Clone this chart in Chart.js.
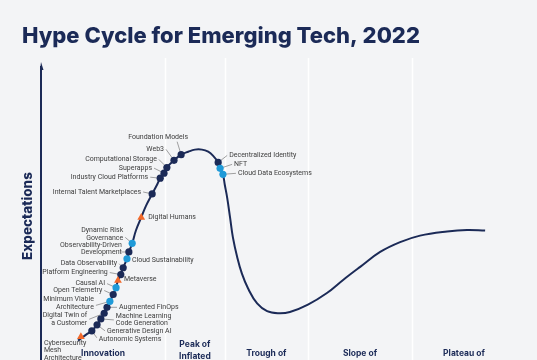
<!DOCTYPE html>
<html>
<head>
<meta charset="utf-8">
<script src="https://cdn.jsdelivr.net/npm/chart.js@4.4.1/dist/chart.umd.min.js"></script>
<style>
  html, body { margin: 0; padding: 0; background: #f3f4f6; }
  #hype { display: block; }
</style>
</head>
<body>
<canvas id="hype" width="537" height="360"></canvas>
<script>
// --- dados (x = tempo 0..100, y = expectativas 0..100) ---
const TITLE = 'Hype Cycle for Emerging Tech, 2022';
const Y_TITLE = 'Expectations';

const CURVE_X = [7.8, 9.5, 10.7, 11.8, 12.6, 13.3, 13.9, 14.5, 15.2, 15.8, 16.2, 16.8, 17.3, 18.1, 18.5, 19.2,
  20.0, 21.1, 22.1, 23.4, 24.4, 25.1, 25.9, 26.5, 28.0, 29.5, 31.0, 32.4, 33.9, 35.2, 36.2, 37.3, 37.7, 38.3,
  38.7, 39.2, 39.8, 40.4, 41.3, 42.3, 43.6, 45.5, 47.6, 49.9, 52.4, 56.2, 60.2, 63.6, 67.2, 71.4, 75.6, 79.8,
  85.5, 89.7, 93.5];
const CURVE_Y = [5.0, 7.0, 8.3, 10.3, 12.3, 14.2, 16.2, 18.2, 20.5, 22.8, 25.2, 27.2, 29.5, 32.5, 34.8, 37.7,
  42.1, 46.4, 50.3, 54.3, 57.3, 59.6, 61.3, 63.2, 65.6, 67.5, 68.5, 69.2, 69.2, 68.5, 67.2, 64.9, 62.9, 60.9,
  57.3, 53.0, 46.4, 39.7, 33.1, 27.5, 22.5, 17.5, 14.9, 14.2, 14.6, 17.1, 21.0, 25.4, 29.8, 34.8, 38.1, 40.3,
  41.7, 42.2, 42.0];

const TECH_NAMES = [
  'Cybersecurity Mesh Architecture', 'Autonomic Systems', 'Generative Design AI',
  'Machine Learning Code Generation', 'Digital Twin of a Customer', 'Augmented FinOps',
  'Minimum Viable Architecture', 'Open Telemetry', 'Causal AI', 'Metaverse', 'Platform Engineering',
  'Data Observability', 'Cloud Sustainability', 'Observability-Driven Development',
  'Dynamic Risk Governance', 'Digital Humans', 'Internal Talent Marketplaces', 'Industry Cloud Platforms',
  'Superapps', 'Computational Storage', 'Web3', 'Foundation Models', 'Decentralized Identity', 'NFT',
  'Cloud Data Ecosystems',
];
const TECH_X = [8.4, 10.7, 11.8, 12.6, 13.3, 13.9, 14.5, 15.2, 15.8, 16.2, 16.8, 17.3, 18.1, 18.5, 19.2,
  21.1, 23.4, 25.1, 25.9, 26.5, 28.0, 29.5, 37.3, 37.7, 38.3];
const TECH_Y = [6.3, 8.3, 10.3, 12.3, 14.2, 16.2, 18.2, 20.5, 22.8, 25.2, 27.2, 29.5, 32.5, 34.8, 37.7,
  46.4, 54.3, 59.6, 61.3, 63.2, 65.6, 67.5, 64.9, 62.9, 60.9];
// anos até o platô: 'a' = 2 a 5, 'b' = 5 a 10, 'c' = mais de 10
const TECH_YEARS = ['c', 'b', 'b', 'b', 'b', 'b', 'a', 'b', 'a', 'c', 'b', 'b', 'a', 'b', 'a',
  'c', 'b', 'b', 'b', 'b', 'b', 'b', 'b', 'a', 'a'];

const PHASES = [
  ['Innovation', 'Trigger'],
  ['Peak of', 'Inflated', 'Expectations'],
  ['Trough of', 'Disillusionment'],
  ['Slope of', 'Enlightenment'],
  ['Plateau of', 'Productivity'],
];
const PHASE_BOUNDS = [0, 26.1, 38.7, 56.2, 78.1, 100];

// --- layout dos rótulos (deslocamentos em px a partir do ponto) ---
const LABEL_LAYOUT = {
  'Cybersecurity Mesh Architecture': { tx: -37, ty: 6, align: 'left', br: ['Cybersecurity', 'Mesh'] },
  'Autonomic Systems': { tx: 7, ty: 8, align: 'left', lead: [5, 7] },
  'Generative Design AI': { tx: 10, ty: 6, align: 'left', lead: [8, 6] },
  'Machine Learning Code Generation': { tx: 15, ty: -3, align: 'left', br: ['Learning'], lead: [13, 1] },
  'Augmented FinOps': { tx: 12, ty: 0, align: 'left', lead: [10, 0] },
  'Digital Twin of a Customer': { tx: -17, ty: 2, align: 'right', br: ['of'], lead: [-15, 6] },
  'Minimum Viable Architecture': { tx: -16, ty: -2, align: 'right', br: ['Viable'], lead: [-14, 4] },
  'Open Telemetry': { tx: -11, ty: -4, align: 'right', lead: [-9, -4] },
  'Causal AI': { tx: -11, ty: -4, align: 'right', lead: [-9, -4] },
  'Metaverse': { tx: 6, ty: -1, align: 'left' },
  'Platform Engineering': { tx: -13, ty: -2, align: 'right', lead: [-11, -2] },
  'Data Observability': { tx: -6, ty: -4, align: 'right', lead: [-4, -4] },
  'Cloud Sustainability': { tx: 5, ty: 1, align: 'left' },
  'Observability-Driven Development': { tx: -7, ty: -7, align: 'right', br: ['Observability-Driven'], lead: [-8, 0] },
  'Dynamic Risk Governance': { tx: -9, ty: -13, align: 'right', br: ['Risk'], lead: [-7, -6] },
  'Digital Humans': { tx: 7, ty: 0, align: 'left' },
  'Internal Talent Marketplaces': { tx: -11, ty: -2, align: 'right', lead: [-9, -2] },
  'Industry Cloud Platforms': { tx: -12, ty: -1, align: 'right', lead: [-10, -1] },
  'Superapps': { tx: -12, ty: -5, align: 'right', lead: [-10, -5] },
  'Computational Storage': { tx: -10, ty: -8, align: 'right', lead: [-8, -8] },
  'Web3': { tx: -10, ty: -11, align: 'right', lead: [-8, -11] },
  'Foundation Models': { tx: -23, ty: -17, align: 'center', lead: [-4, -13] },
  'Decentralized Identity': { tx: 11, ty: -7, align: 'left', lead: [9, -7] },
  'NFT': { tx: 14, ty: -4, align: 'left', lead: [12, -4] },
  'Cloud Data Ecosystems': { tx: 15, ty: -1, align: 'left', lead: [13, -1] },
};

const CORES = {
  bg: '#f3f4f6',
  navy: '#1b2a57',
  blue: '#1f9ad8',
  orange: '#f2692a',
  text: '#3d3d3d',
  leader: '#7a7a7a',
  sep: '#ffffff',
};

function _techPoints(kind) {
  const pts = [];
  TECH_NAMES.forEach((n, i) => {
    if (TECH_YEARS[i] === kind) pts.push({ x: TECH_X[i], y: TECH_Y[i], name: n });
  });
  return pts;
}

function _lines(name, lay) {
  let s = name;
  (lay.br || []).forEach(w => { s = s.replace(w + ' ', w + '\n'); });
  return s.split('\n');
}

const hypeDecor = {
  id: 'hypeDecor',
  beforeDraw(chart) {
    const { ctx, chartArea: a, scales: { x } } = chart;
    ctx.save();
    ctx.fillStyle = CORES.bg;
    ctx.fillRect(0, 0, chart.width, chart.height);

    // título
    ctx.fillStyle = CORES.navy;
    ctx.font = "800 22px Inter, 'Noto Sans', sans-serif";
    ctx.textBaseline = 'middle';
    ctx.textAlign = 'left';
    ctx.fillText(TITLE, 22, 36);

    // separadores das fases
    ctx.strokeStyle = CORES.sep;
    ctx.lineWidth = 1.5;
    PHASE_BOUNDS.slice(1, -1).forEach(b => {
      const px = Math.round(x.getPixelForValue(b)) + 0.5;
      ctx.beginPath();
      ctx.moveTo(px, a.top);
      ctx.lineTo(px, chart.height);
      ctx.stroke();
    });

    // eixo y com seta
    ctx.strokeStyle = CORES.navy;
    ctx.fillStyle = CORES.navy;
    ctx.lineWidth = 2;
    ctx.beginPath();
    ctx.moveTo(a.left, a.top + 8);
    ctx.lineTo(a.left, chart.height);
    ctx.stroke();
    ctx.beginPath();
    ctx.moveTo(a.left, a.top + 4);
    ctx.lineTo(a.left + 2.5, a.top + 12);
    ctx.lineTo(a.left - 1, a.top + 12);
    ctx.closePath();
    ctx.fill();

    ctx.save();
    ctx.translate(28, 216);
    ctx.rotate(-Math.PI / 2);
    ctx.textAlign = 'center';
    ctx.font = "800 13.5px Inter, 'Noto Sans', sans-serif";
    ctx.fillText(Y_TITLE, 0, 0);
    ctx.restore();

    // nomes das fases
    ctx.font = "700 8.5px Inter, 'Noto Sans', sans-serif";
    ctx.textAlign = 'center';
    PHASES.forEach((lines, i) => {
      const cx = (x.getPixelForValue(PHASE_BOUNDS[i]) + x.getPixelForValue(PHASE_BOUNDS[i + 1])) / 2;
      const y0 = lines.length > 2 ? 344 : 353;
      lines.forEach((l, j) => ctx.fillText(l, cx, y0 + j * (j < 1 && lines.length > 2 ? 9 : 12)));
    });
    ctx.restore();
  },
  beforeDatasetsDraw(chart) {
    const { ctx, scales: { x, y } } = chart;
    ctx.save();
    ctx.strokeStyle = CORES.leader;
    ctx.lineWidth = 0.7;
    TECH_NAMES.forEach((n, i) => {
      const lay = LABEL_LAYOUT[n];
      if (!lay || !lay.lead) return;
      const px = x.getPixelForValue(TECH_X[i]);
      const py = y.getPixelForValue(TECH_Y[i]);
      ctx.beginPath();
      ctx.moveTo(px + lay.lead[0], py + lay.lead[1]);
      ctx.lineTo(px, py);
      ctx.stroke();
    });
    ctx.restore();
  },
  afterDatasetsDraw(chart) {
    const { ctx, scales: { x, y } } = chart;
    ctx.save();
    ctx.fillStyle = CORES.text;
    ctx.font = "7px Roboto, 'Liberation Sans', sans-serif";
    ctx.textBaseline = 'middle';
    TECH_NAMES.forEach((n, i) => {
      const lay = LABEL_LAYOUT[n];
      if (!lay) return;
      const px = x.getPixelForValue(TECH_X[i]);
      const py = y.getPixelForValue(TECH_Y[i]);
      ctx.textAlign = lay.align;
      _lines(n, lay).forEach((l, j) => ctx.fillText(l, px + lay.tx, py + lay.ty + j * 7.5));
    });
    ctx.restore();
  },
};

new Chart(document.getElementById('hype'), {
  type: 'scatter',
  data: {
    datasets: [
      {
        label: 'more than 10 years',
        data: _techPoints('c'),
        pointStyle: 'triangle',
        pointRadius: 4.5,
        backgroundColor: CORES.orange,
        borderWidth: 0,
        order: 0,
      },
      {
        label: '2 to 5 years',
        data: _techPoints('a'),
        pointRadius: 3.6,
        backgroundColor: CORES.blue,
        borderWidth: 0,
        order: 0,
      },
      {
        label: '5 to 10 years',
        data: _techPoints('b'),
        pointRadius: 3.6,
        backgroundColor: CORES.navy,
        borderWidth: 0,
        order: 0,
      },
      {
        type: 'line',
        label: 'hype',
        data: CURVE_X.map((v, i) => ({ x: v, y: CURVE_Y[i] })),
        borderColor: CORES.navy,
        borderWidth: 2,
        pointRadius: 0,
        tension: 0.4,
        fill: false,
        order: 1,
      },
    ],
  },
  options: {
    responsive: false,
    devicePixelRatio: 1,
    animation: false,
    layout: { padding: { left: 41, right: 21, top: 58, bottom: 0 } },
    scales: {
      x: { type: 'linear', min: 0, max: 100, display: false },
      y: { type: 'linear', min: 0, max: 100, display: false },
    },
    plugins: {
      legend: { display: false },
      tooltip: { enabled: false },
    },
  },
  plugins: [hypeDecor],
});
</script>
</body>
</html>
